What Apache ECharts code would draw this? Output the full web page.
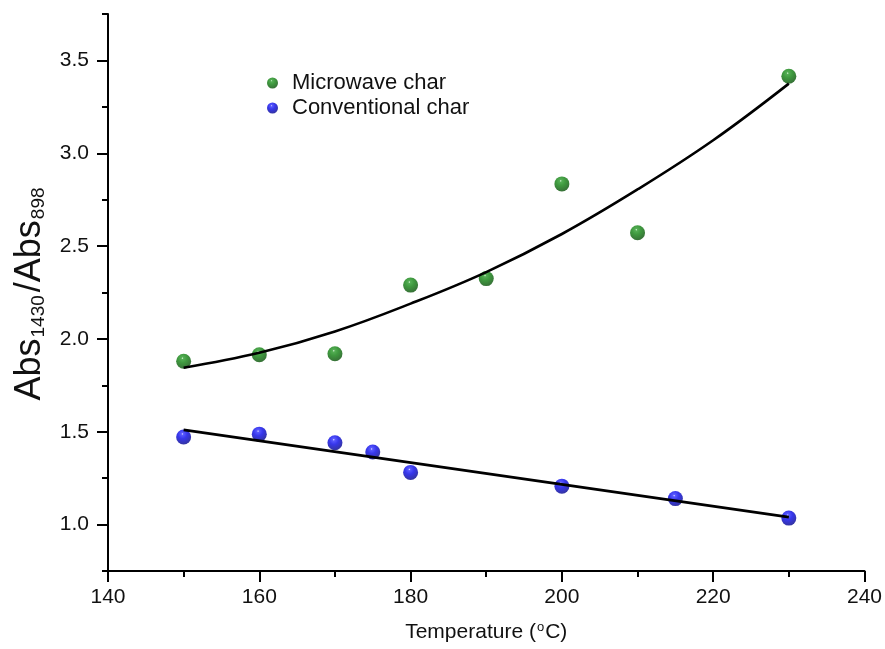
<!DOCTYPE html>
<html>
<head>
<meta charset="utf-8">
<script src="https://cdn.jsdelivr.net/npm/echarts@6/dist/echarts.min.js"></script>
<style>
html,body{margin:0;padding:0;background:#fff;}
#chart{width:885px;height:649px;}
</style>
</head>
<body>
<div id="chart"></div>
<script>
// ---- data ----
const microTemp = [150, 160, 170, 180, 190, 200, 210, 230];
const microAbs  = [1.88, 1.915, 1.92, 2.29, 2.325, 2.835, 2.572, 3.415];
const convTemp  = [150, 160, 170, 175, 180, 200, 215, 230];
const convAbs   = [1.472, 1.487, 1.441, 1.391, 1.281, 1.207, 1.14, 1.035];
// fitted curves
const microFitTemp = [150, 160, 170, 180, 190, 200, 210, 220, 230];
const microFitAbs  = [1.845, 1.925, 2.04, 2.19, 2.36, 2.565, 2.805, 3.07, 3.375];
const convFitTemp  = [150, 230];
const convFitAbs   = [1.51, 1.04];
// ticks
const yMajorTicks = [1.0, 1.5, 2.0, 2.5, 3.0, 3.5];
const yMinorTicks = [0.75, 1.25, 1.75, 2.25, 2.75, 3.25, 3.75];
const seriesNames = ['Microwave char', 'Conventional char'];

const zip = (a, b) => a.map((v, i) => [v, b[i]]);

function sphere(hi, light, mid, dark) {
  return {
    type: 'radial', x: 0.42, y: 0.3, r: 0.78,
    colorStops: [
      {offset: 0, color: hi},
      {offset: 0.1, color: light},
      {offset: 0.4, color: mid},
      {offset: 1, color: dark}
    ]
  };
}
const greenBall = sphere('#d8f8d8', '#2a9a2a', '#0f800f', '#034403');
const blueBall  = sphere('#dcdcff', '#3030ff', '#0505e6', '#010178');

const chart = echarts.init(document.getElementById('chart'), null, {renderer: 'canvas'});
const font = 'Liberation Sans, Arial, sans-serif';

chart.setOption({
  backgroundColor: '#ffffff',
  animation: false,
  grid: {left: 108, right: 20, top: 14, bottom: 78, containLabel: false},
  legend: {
    orient: 'vertical', left: 262, top: 67,
    itemWidth: 11, itemHeight: 11, itemGap: 3,
    icon: 'circle',
    data: seriesNames,
    textStyle: {fontFamily: font, fontSize: 22, color: '#111', lineHeight: 22, padding: [0, 0, 0, 9]}
  },
  xAxis: {
    type: 'value', min: 140, max: 240, interval: 20,
    name: 'Temperature ({sup|o}C)',
    nameLocation: 'middle', nameGap: 50,
    nameTextStyle: {fontFamily: font, fontSize: 21, color: '#111',
      rich: {sup: {fontFamily: font, fontSize: 13, verticalAlign: 'top', padding: [0, 1, 9, 1]}}},
    axisLine: {show: true, onZero: false, lineStyle: {color: '#000', width: 2}},
    axisTick: {show: true, inside: false, length: 11, lineStyle: {color: '#000', width: 2}},
    minorTick: {show: true, splitNumber: 2, length: 6, lineStyle: {color: '#000', width: 2}},
    axisLabel: {fontFamily: font, fontSize: 21, color: '#111', margin: 16},
    splitLine: {show: false}, minorSplitLine: {show: false}
  },
  yAxis: [{
    type: 'value', min: 0.75, max: 3.75,
    name: '{a|Abs}{s|1430}{a|/Abs}{s|898}',
    nameLocation: 'middle', nameRotate: 90, nameGap: 60,
    nameTextStyle: {
      color: '#111',
      rich: {
        a: {fontFamily: font, fontSize: 36, lineHeight: 42, verticalAlign: 'bottom', color: '#111'},
        s: {fontFamily: font, fontSize: 19, lineHeight: 42, verticalAlign: 'bottom', color: '#111', padding: [0, 3, 0, 1]}
      }
    },
    axisLine: {show: true, onZero: false, lineStyle: {color: '#000', width: 2}},
    axisTick: {show: true, inside: false, length: 11, customValues: yMajorTicks, lineStyle: {color: '#000', width: 2}},
    axisLabel: {fontFamily: font, fontSize: 21, color: '#111', margin: 19,
      customValues: yMajorTicks, formatter: v => v.toFixed(1)},
    splitLine: {show: false}
  }, {
    type: 'value', min: 0.75, max: 3.75, position: 'left', offset: 0,
    axisLine: {show: false},
    axisTick: {show: true, inside: false, length: 6, customValues: yMinorTicks, lineStyle: {color: '#000', width: 2}},
    axisLabel: {show: false, customValues: yMinorTicks},
    splitLine: {show: false}
  }],
  series: [
    {
      name: seriesNames[0], type: 'scatter', symbol: 'circle', symbolSize: 15, z: 2,
      itemStyle: {color: greenBall},
      data: zip(microTemp, microAbs)
    },
    {
      name: seriesNames[1], type: 'scatter', symbol: 'circle', symbolSize: 15, z: 2,
      itemStyle: {color: blueBall},
      data: zip(convTemp, convAbs)
    },
    {
      type: 'line', smooth: 0.4, showSymbol: false, symbol: 'none', z: 3, silent: true,
      lineStyle: {color: '#000', width: 2.6},
      data: zip(microFitTemp, microFitAbs)
    },
    {
      type: 'line', showSymbol: false, symbol: 'none', z: 3, silent: true,
      lineStyle: {color: '#000', width: 2.6},
      data: zip(convFitTemp, convFitAbs)
    }
  ]
});
</script>
</body>
</html>
